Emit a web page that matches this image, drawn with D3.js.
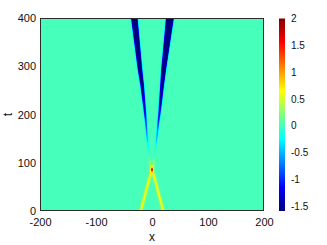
<!DOCTYPE html>
<html><head><meta charset="utf-8">
<script src="https://cdn.jsdelivr.net/npm/d3@7"></script>
<style>html,body{margin:0;padding:0;background:#fff;}svg{display:block;}</style>
</head><body>
<script>
// ---- data ----
const xDomain = [-200, 200];
const tDomain = [0, 400];
const xTicks = [-200, -100, 0, 100, 200];
const tTicks = [0, 100, 200, 300, 400];
const colorDomain = [-1.59, 2];
const colorTicks = [-1.5, -1, -0.5, 0, 0.5, 1, 1.5, 2];
const jetPos = [0, 0.125, 0.375, 0.625, 0.875, 1];
const jetColors = ["#000080", "#0000ff", "#00ffff", "#ffff00", "#ff0000", "#800000"];

// bright solitons (before collision) keyframes
const brightT = [0, 86, 98, 112];
const brightLeftX = [-20, -0.6, -3, -3.5];
const brightRightX = [20, 0.6, 3, 3.5];
const brightAmp = [0.66, 0.72, 0.3, 0];
const brightWidth = [2.4, 2.2, 2, 2];

// collision peak
const peakT = [86];
const peakX = [0];
const peakAmp = [0.6];

// dark solitons (after collision) keyframes
const darkT = [108, 130, 150, 180, 210, 260, 293, 400];
const darkLeftX = [-3, -6, -8.5, -10.5, -13, -17.5, -21.4, -31.6];
const darkRightX = [3, 6.5, 8.5, 11, 14, 18, 20.8, 32];
const darkDepth = [0, -0.35, -0.75, -1.1, -1.45, -1.7, -1.75, -1.8];
const darkLeftHW = [0.4, 0.7, 1.0, 1.5, 2.0, 3.0, 3.8, 5.6];
const darkRightHW = [0.4, 0.7, 1.0, 1.5, 2.1, 3.2, 4.1, 6.8];

// ---- layout ----
const W = 327, H = 245;
const plot = {left: 40, right: 264, top: 18, bottom: 211};
const cb = {left: 279, right: 285, top: 18.5, bottom: 211};

const x = d3.scaleLinear().domain(xDomain).range([plot.left, plot.right]);
const y = d3.scaleLinear().domain(tDomain).range([plot.bottom, plot.top]);
const cy = d3.scaleLinear().domain(colorDomain).range([cb.bottom, cb.top]);
const color = d3.scaleLinear()
  .domain(jetPos.map(p => colorDomain[0] + p * (colorDomain[1] - colorDomain[0])))
  .range(jetColors).interpolate(d3.interpolateRgb).clamp(true);

const kf = (ts, vs) => d3.scaleLinear().domain(ts).range(vs).clamp(true);
const bL = kf(brightT, brightLeftX), bR = kf(brightT, brightRightX),
      bA = kf(brightT, brightAmp), bW = kf(brightT, brightWidth);
const dL = kf(darkT, darkLeftX), dR = kf(darkT, darkRightX), dD = kf(darkT, darkDepth),
      dLW = kf(darkT, darkLeftHW), dRW = kf(darkT, darkRightHW);
const sech2 = u => { const c = Math.cosh(u); return 1 / (c * c); };
const plateau = (u, hw, e) => 0.5 * (Math.tanh((u + hw) / e) - Math.tanh((u - hw) / e));

function field(xv, tv) {
  let v = 0;
  if (tv <= brightT[brightT.length - 1]) {
    const a = bA(tv), w = bW(tv);
    v += a * sech2((xv - bL(tv)) / w) + a * sech2((xv - bR(tv)) / w);
  }
  peakT.forEach((pt, i) => {
    v += peakAmp[i] * Math.exp(-((xv - peakX[i]) ** 2) / (2 * 1.6 * 1.6) - ((tv - pt) ** 2) / (2 * 2.2 * 2.2));
  });
  if (tv >= darkT[0]) {
    const d = dD(tv);
    v += d * plateau(xv - dL(tv), dLW(tv), 1.3) + d * plateau(xv - dR(tv), dRW(tv), 1.3);
  }
  return v;
}

// ---- render ----
const svg = d3.select("body").append("svg").attr("width", W).attr("height", H)
  .style("font-family", "'Liberation Sans', Arial, Helvetica, sans-serif");

const pw = plot.right - plot.left, ph = plot.bottom - plot.top;
const canvas = document.createElement("canvas");
canvas.width = pw; canvas.height = ph;
const ctx = canvas.getContext("2d");
const img = ctx.createImageData(pw, ph);
for (let j = 0; j < ph; j++) {
  const tv = y.invert(plot.top + j + 0.5);
  for (let i = 0; i < pw; i++) {
    const xv = x.invert(plot.left + i + 0.5);
    const c = d3.rgb(color(field(xv, tv)));
    const k = (j * pw + i) * 4;
    img.data[k] = c.r; img.data[k + 1] = c.g; img.data[k + 2] = c.b; img.data[k + 3] = 255;
  }
}
ctx.putImageData(img, 0, 0);
svg.append("image").attr("x", plot.left).attr("y", plot.top)
  .attr("width", pw).attr("height", ph).attr("href", canvas.toDataURL());

svg.append("rect").attr("x", plot.left + 0.5).attr("y", plot.top + 0.5)
  .attr("width", pw - 1).attr("height", ph - 1)
  .attr("fill", "none").attr("stroke", "#2b2b2b").attr("stroke-width", 1);

// axes
const fmt = d => String(d);
const gx = svg.append("g").attr("transform", `translate(0,${plot.bottom})`)
  .call(d3.axisBottom(x).tickValues(xTicks).tickFormat(fmt).tickSize(0).tickPadding(7));
const gy = svg.append("g").attr("transform", `translate(${plot.left},0)`)
  .call(d3.axisLeft(y).tickValues(tTicks).tickFormat(fmt).tickSize(0).tickPadding(4));
[gx, gy].forEach(g => {
  g.select(".domain").remove();
  g.selectAll("text").attr("font-size", 11).attr("fill", "#111")
    .style("font-family", "'Liberation Sans', Arial, sans-serif");
});

svg.append("text").attr("x", x(0)).attr("y", 241).attr("text-anchor", "middle")
  .attr("font-size", 12).attr("fill", "#111").text("x");
svg.append("text").attr("transform", `translate(12,${y(200)}) rotate(-90)`)
  .attr("text-anchor", "middle").attr("font-size", 12).attr("fill", "#111").text("t");

// colorbar
const defs = svg.append("defs");
const grad = defs.append("linearGradient").attr("id", "jet")
  .attr("x1", 0).attr("y1", 1).attr("x2", 0).attr("y2", 0);
grad.selectAll("stop").data(jetPos).join("stop")
  .attr("offset", d => d).attr("stop-color", (d, i) => jetColors[i]);
svg.append("rect").attr("x", cb.left).attr("y", cb.top)
  .attr("width", cb.right - cb.left).attr("height", cb.bottom - cb.top)
  .attr("fill", "url(#jet)");
const gc = svg.append("g").attr("transform", `translate(${cb.right},0)`)
  .call(d3.axisRight(cy).tickValues(colorTicks).tickFormat(fmt).tickSize(0).tickPadding(6));
gc.select(".domain").remove();
gc.selectAll("text").attr("font-size", 10).attr("fill", "#111")
  .style("font-family", "'Liberation Sans', Arial, sans-serif");
</script>
</body></html>
